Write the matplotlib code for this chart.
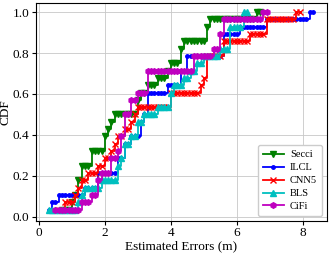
import numpy as np
import matplotlib
matplotlib.use("Agg")
import matplotlib.pyplot as plt

# Localisation error samples (m) per method (28 runs each)
secci = [0.7, 0.95, 1.1, 1.15, 1.15, 1.25, 1.25, 1.55, 1.55, 1.97, 1.97, 2.05, 2.15, 2.3,
         2.95, 3.0, 3.1, 3.3, 3.6, 3.9, 4.0, 4.24, 4.24, 4.4, 5.1, 5.1, 5.2, 6.55]
ilcl = [0.3, 0.4, 0.55, 1.35, 1.75, 1.75, 2.35, 2.35, 2.55, 2.55, 2.8, 3.05, 3.05, 3.15,
        3.25, 3.25, 3.25, 3.85, 4.25, 4.25, 4.45, 4.45, 5.6, 5.6, 5.6, 6.1, 6.85, 8.2]
cnn5 = [0.6, 0.75, 1.05, 1.2, 1.3, 1.45, 1.75, 2.0, 2.2, 2.3, 2.4, 2.6, 2.75, 2.9, 3.0,
        4.0, 4.0, 4.85, 5.0, 5.1, 5.1, 5.1, 5.55, 5.55, 6.33, 6.88, 6.88, 7.75]
bls = [0.3, 1.2, 1.3, 1.4, 1.85, 2.35, 2.35, 2.45, 2.6, 2.6, 2.75, 3.0, 3.0, 3.2, 3.55,
       4.0, 4.0, 4.1, 4.4, 4.55, 4.8, 5.0, 5.45, 5.8, 5.8, 5.8, 6.15, 6.15]
cifi = [0.5, 1.25, 1.52, 1.8, 1.8, 1.9, 2.15, 2.15, 2.35, 2.45, 2.45, 2.55, 2.55, 2.55,
        2.8, 2.8, 2.95, 3.3, 3.3, 3.3, 4.68, 4.68, 5.3, 5.45, 5.45, 5.6, 5.6, 6.75]

SERIES = [("Secci", secci, "g", "v"),
          ("ILCL", ilcl, "b", "."),
          ("CNN5", cnn5, "r", "x"),
          ("BLS", bls, "c", "^"),
          ("CiFi", cifi, "m", "h")]

plt.rcParams["font.family"] = ["Liberation Serif", "DejaVu Serif"]

fig = plt.figure(figsize=(3.32, 2.54), dpi=100)
ax = fig.add_axes([0.108, 0.13, 0.877, 0.858])

step = 0.1
for name, errs, col, mk in SERIES:
    e = np.sort(np.asarray(errs))
    n = int(np.ceil((e[-1] - e[0]) / step - 1e-9)) + 2
    xs = e[0] + step * np.arange(n)
    ys = np.array([(e <= x + 1e-9).mean() for x in xs])
    ax.plot(xs, ys, drawstyle="steps-post", color=col, marker=mk,
            markersize=4 if mk != "." else 5, linewidth=1.3, label=name)

ax.set_xlim(-0.09, 8.73)
ax.set_ylim(-0.02, 1.044)
ax.set_xticks([0, 2, 4, 6, 8])
ax.set_yticks([0.0, 0.2, 0.4, 0.6, 0.8, 1.0])
ax.tick_params(labelsize=9.5, length=3, pad=1.5)
ax.set_xlabel("Estimated Errors (m)", fontsize=9.5, labelpad=1)
ax.set_ylabel("CDF", fontsize=9.5, labelpad=1)
ax.grid(True, color="#c8c8c8", linewidth=0.6)
ax.legend(loc="lower right", fontsize=7.5, handlelength=2.0, borderpad=0.45,
          labelspacing=0.35, handletextpad=0.6, framealpha=1.0)

fig.savefig("out.png", dpi=100)
